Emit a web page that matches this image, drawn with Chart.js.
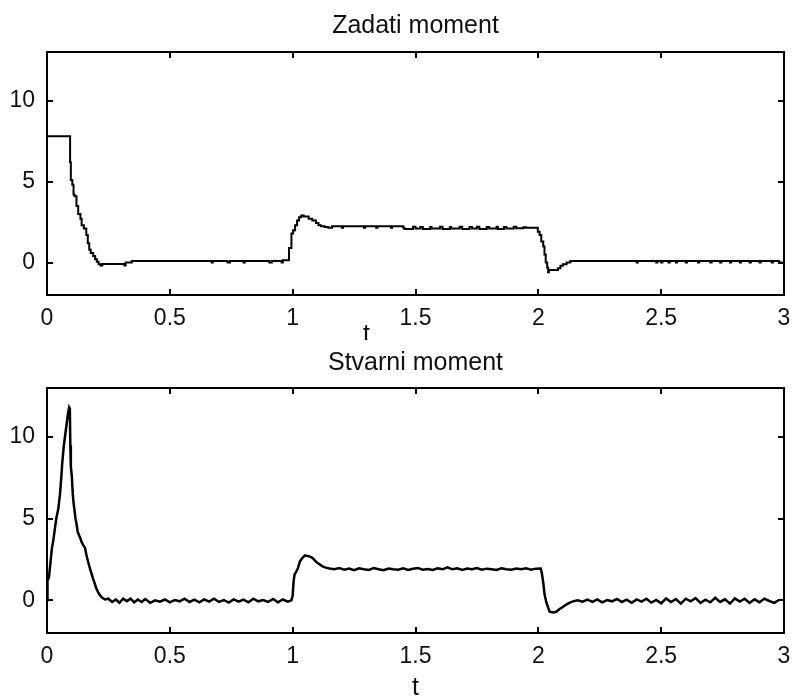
<!DOCTYPE html>
<html>
<head>
<meta charset="utf-8">
<script src="https://cdn.jsdelivr.net/npm/chart.js@4.4.1/dist/chart.umd.min.js"></script>
<style>
  body { margin: 0; background: #fff; }
  #wrap { position: relative; width: 793px; height: 696px; }
  canvas { position: absolute; left: 0; }
</style>
</head>
<body>
<div id="wrap">
  <canvas id="top" width="793" height="340" style="top:0"></canvas>
  <canvas id="bottom" width="793" height="356" style="top:340px"></canvas>
</div>
<script>
// tick labels
var xTicks = [0, 0.5, 1, 1.5, 2, 2.5, 3];
var yTicks = [0, 5, 10];

// Zadati moment (set torque), sample-and-hold steps
var zadatiT = [0, 0.094, 0.097, 0.103, 0.108, 0.112, 0.12, 0.127, 0.136, 0.141, 0.15, 0.16,
  0.166, 0.172, 0.178, 0.188, 0.196, 0.203, 0.21, 0.218, 0.225, 0.315, 0.32, 0.345,
  0.67, 0.675, 0.735, 0.745, 0.8, 0.805, 0.905, 0.915, 0.955, 0.96, 0.985, 0.995,
  1.002, 1.01, 1.018, 1.026, 1.035, 1.045, 1.065, 1.08, 1.095, 1.105, 1.115, 1.13,
  1.145, 1.16, 1.2, 1.205, 1.29, 1.295, 1.34, 1.345, 1.4, 1.405, 1.45, 1.455, 1.49,
  1.5, 1.52, 1.53, 1.56, 1.565, 1.6, 1.61, 1.64, 1.645, 1.68, 1.69, 1.72, 1.73, 1.75,
  1.76, 1.79, 1.8, 1.83, 1.835, 1.86, 1.87, 1.9, 1.91, 1.94, 1.95, 1.998, 2.005, 2.012,
  2.02, 2.025, 2.03, 2.036, 2.04, 2.043, 2.08, 2.09, 2.1, 2.115, 2.13, 2.4, 2.405,
  2.48, 2.485, 2.5, 2.505, 2.53, 2.535, 2.56, 2.565, 2.6, 2.605, 2.65, 2.655, 2.7,
  2.705, 2.74, 2.745, 2.78, 2.785, 2.82, 2.825, 2.86, 2.865, 2.9, 2.905, 2.95, 2.955,
  2.98, 2.985, 3];
var zadatiV = [8.1, 7.8, 6.2, 5.1, 4.8, 4.2, 4.1, 3.5, 3.0, 2.7, 2.3, 2.1,
  1.7, 1.2, 0.8, 0.6, 0.4, 0.2, 0.05, -0.1, -0.18, -0.08, -0.18, 0,
  0.1, 0, 0.1, 0, 0.1, 0, 0.1, 0, 0.1, 0, 0.15, 0.9,
  1.8, 2.0, 2.3, 2.6, 2.8, 2.9, 2.85, 2.7, 2.6, 2.45, 2.3, 2.25,
  2.2, 2.15, 2.25, 2.15, 2.25, 2.15, 2.25, 2.15, 2.25, 2.15, 2.25, 2.15, 2.08,
  2.22, 2.1, 2.2, 2.08, 2.2, 2.1, 2.22, 2.08, 2.2, 2.1, 2.22, 2.08, 2.2, 2.1,
  2.22, 2.08, 2.2, 2.1, 2.22, 2.08, 2.2, 2.1, 2.22, 2.12, 2.18, 2.15, 1.9, 1.7,
  1.3, 1.0, 0.5, 0.0, -0.3, -0.6, -0.45, -0.35, -0.2, -0.1, 0, 0.1, 0,
  0.1, 0, 0.1, 0, 0.1, 0, 0.1, 0, 0.1, 0, 0.1, 0, 0.1,
  0, 0.1, 0, 0.1, 0, 0.1, 0, 0.1, 0, 0.1, 0, 0.1, 0,
  0.1, 0, 0];

// Stvarni moment (actual torque)
var stvarniT = [0, 0.002, 0.008, 0.012, 0.02, 0.026, 0.033, 0.039, 0.046, 0.053, 0.058,
  0.062, 0.068, 0.073, 0.08, 0.085, 0.09, 0.093, 0.095, 0.097, 0.101, 0.105, 0.108,
  0.112, 0.116, 0.12, 0.125, 0.13, 0.136, 0.14, 0.147, 0.155, 0.16, 0.165, 0.172,
  0.18, 0.188, 0.195, 0.2, 0.208, 0.216, 0.225, 0.236, 0.25, 0.265, 0.28, 0.295,
  0.31, 0.325, 0.34, 0.355, 0.37, 0.385, 0.4, 0.42, 0.44, 0.46, 0.48, 0.5, 0.52,
  0.54, 0.56, 0.58, 0.6, 0.62, 0.64, 0.66, 0.68, 0.7, 0.72, 0.74, 0.76, 0.78, 0.8,
  0.82, 0.84, 0.86, 0.88, 0.9, 0.92, 0.94, 0.96, 0.98, 0.995, 1.0, 1.004, 1.008,
  1.015, 1.022, 1.03, 1.04, 1.05, 1.06, 1.07, 1.08, 1.09, 1.1, 1.11, 1.12, 1.135,
  1.15, 1.17, 1.19, 1.21, 1.23, 1.25, 1.27, 1.29, 1.31, 1.33, 1.35, 1.37, 1.39,
  1.41, 1.43, 1.45, 1.47, 1.49, 1.51, 1.53, 1.55, 1.57, 1.59, 1.61, 1.63, 1.65,
  1.67, 1.69, 1.71, 1.73, 1.75, 1.77, 1.79, 1.81, 1.83, 1.85, 1.87, 1.89, 1.91,
  1.93, 1.95, 1.97, 1.99, 2.01, 2.015, 2.02, 2.025, 2.032, 2.04, 2.046, 2.06, 2.073,
  2.085, 2.095, 2.105, 2.115, 2.13, 2.145, 2.16, 2.18, 2.2, 2.22, 2.24, 2.26, 2.28,
  2.3, 2.32, 2.34, 2.36, 2.38, 2.4, 2.42, 2.44, 2.46, 2.48, 2.5, 2.52, 2.54, 2.56,
  2.58, 2.6, 2.62, 2.64, 2.66, 2.68, 2.7, 2.72, 2.74, 2.76, 2.78, 2.8, 2.82, 2.84,
  2.86, 2.88, 2.9, 2.92, 2.94, 2.96, 2.98, 3];
var stvarniV = [0, 1.2, 1.4, 2.0, 3.2, 3.7, 4.5, 5.1, 5.6, 6.5, 7.5,
  8.4, 9.4, 10.0, 10.8, 11.4, 11.8, 11.7, 9.5, 8.2, 7.6, 6.5, 6.0,
  5.5, 5.0, 4.7, 4.2, 4.0, 3.8, 3.6, 3.4, 3.2, 2.8, 2.5, 2.1,
  1.7, 1.3, 1.0, 0.75, 0.5, 0.3, 0.15, 0.05, 0.1, -0.1, 0.05, -0.15,
  0.1, -0.05, 0.1, -0.12, 0.05, -0.1, 0.08, -0.15, 0, -0.08, 0.05, -0.12, 0.02,
  -0.06, 0.1, -0.1, 0.04, -0.12, 0.06, -0.08, 0.1, -0.1, 0.02, -0.14, 0.06, -0.08, 0.04,
  -0.12, 0.1, -0.06, 0.02, -0.1, 0.08, -0.12, 0.05, -0.08, 0, 0.3, 1.2, 1.6,
  1.75, 2.0, 2.4, 2.6, 2.75, 2.72, 2.68, 2.6, 2.45, 2.3, 2.2, 2.1, 2.0,
  1.95, 1.9, 1.98, 1.88, 1.95, 1.85, 1.96, 1.9, 1.86, 1.98, 1.9, 1.85, 1.95,
  1.9, 1.88, 1.96, 1.86, 1.93, 1.98, 1.88, 1.92, 1.86, 1.96, 1.9, 2.02, 1.9,
  1.96, 1.86, 1.95, 1.9, 1.98, 1.88, 1.94, 1.9, 1.86, 1.96, 1.9, 1.88, 1.95,
  1.9, 1.96, 1.88, 1.94, 1.95, 1.6, 1.1, 0.4, -0.1, -0.45, -0.7, -0.75, -0.7,
  -0.55, -0.45, -0.35, -0.25, -0.12, -0.05, 0, -0.08, 0.05, -0.1, 0.06, -0.12, 0.02,
  -0.06, 0.08, -0.1, 0.04, -0.15, 0.06, -0.08, 0.1, -0.14, 0.02, -0.18, 0.12, -0.1,
  0.08, -0.2, 0.1, -0.06, 0.14, -0.16, 0.04, -0.12, 0.16, -0.1, 0.06, -0.2, 0.12,
  -0.08, 0.1, -0.16, 0.06, -0.12, 0.1, -0.04, -0.16, 0.02];

var FONT = "'Liberation Sans', Arial, sans-serif";

// box round the axes, inward ticks, and the "t" label
var matlabAxes = {
  id: "matlabAxes",
  afterDraw: function (chart, args, opts) {
    var ctx = chart.ctx;
    var a = chart.chartArea;
    var xs = chart.scales.x;
    var ys = chart.scales.y;
    ctx.save();
    ctx.strokeStyle = "#000";
    ctx.lineWidth = 2;
    ctx.strokeRect(a.left, a.top, a.right - a.left, a.bottom - a.top);
    ctx.beginPath();
    xs.ticks.forEach(function (t) {
      var px = Math.round(xs.getPixelForValue(t.value));
      ctx.moveTo(px, a.bottom);
      ctx.lineTo(px, a.bottom - 6);
      ctx.moveTo(px, a.top);
      ctx.lineTo(px, a.top + 6);
    });
    ys.ticks.forEach(function (t) {
      var py = Math.round(ys.getPixelForValue(t.value));
      ctx.moveTo(a.left, py);
      ctx.lineTo(a.left + 6, py);
      ctx.moveTo(a.right, py);
      ctx.lineTo(a.right - 6, py);
    });
    ctx.stroke();
    ctx.fillStyle = "#111";
    ctx.font = "25px " + FONT;
    ctx.textAlign = "center";
    ctx.textBaseline = "alphabetic";
    ctx.fillText("t", xs.getPixelForValue(opts.labelAt), opts.labelY);
    ctx.restore();
  },
};

function makeChart(id, title, tArr, vArr, opts) {
  return new Chart(document.getElementById(id), {
    type: "line",
    data: {
      datasets: [
        {
          data: tArr.map((t, i) => ({ x: t, y: vArr[i] })),
          borderColor: "#000",
          borderWidth: opts.lineWidth,
          pointRadius: 0,
          stepped: opts.stepped,
          tension: 0,
        },
      ],
    },
    options: {
      responsive: false,
      animation: false,
      layout: { padding: { left: 0, right: 9, top: 0, bottom: 0 } },
      plugins: {
        legend: { display: false },
        tooltip: { enabled: false },
        title: {
          display: true,
          text: title,
          fullSize: false,
          color: "#111",
          font: { family: FONT, size: 25, weight: "normal" },
          padding: { top: opts.titleTop, bottom: opts.titleBottom },
        },
        matlabAxes: { labelAt: opts.labelAt, labelY: opts.labelY },
      },
      scales: {
        x: {
          type: "linear",
          min: 0,
          max: 3,
          afterBuildTicks: (s) => { s.ticks = xTicks.map((v) => ({ value: v })); },
          afterFit: (s) => {
            s.height = opts.xHeight;
            s.paddingLeft = 0;
            s.paddingRight = 0;
          },
          grid: { display: false, drawTicks: false },
          border: { display: false },
          ticks: {
            color: "#111",
            padding: 10,
            maxRotation: 0,
            font: { family: FONT, size: 23 },
            callback: (v) => String(v),
          },
        },
        y: {
          min: -2,
          max: 13,
          afterBuildTicks: (s) => { s.ticks = yTicks.map((v) => ({ value: v })); },
          afterFit: (s) => {
            s.width = 47;
            s.paddingTop = 0;
            s.paddingBottom = 0;
          },
          grid: { display: false, drawTicks: false },
          border: { display: false },
          ticks: {
            color: "#111",
            padding: 12,
            font: { family: FONT, size: 23 },
            callback: (v) => String(v),
          },
        },
      },
    },
    plugins: [matlabAxes],
  });
}

makeChart("top", "Zadati moment", zadatiT, zadatiV, {
  lineWidth: 2, stepped: "after", titleTop: 11, titleBottom: 11,
  xHeight: 45, labelAt: 1.3, labelY: 342,
});
makeChart("bottom", "Stvarni moment", stvarniT, stvarniV, {
  lineWidth: 2.5, stepped: false, titleTop: 8, titleBottom: 10,
  xHeight: 63, labelAt: 1.5, labelY: 355,
});
</script>
</body>
</html>
